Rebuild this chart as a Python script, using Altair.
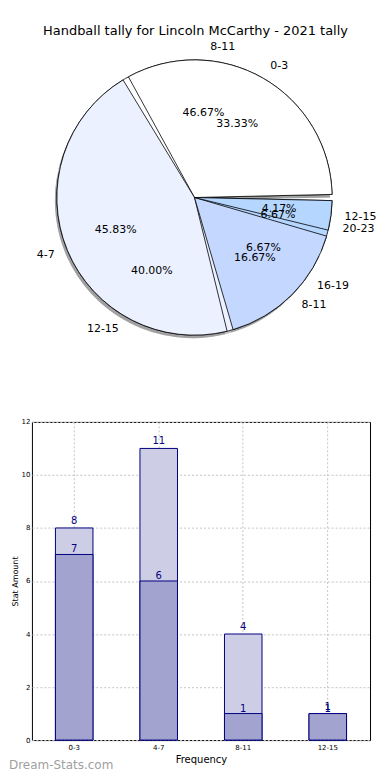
import altair as alt
import pandas as pd

title_text = "Handball tally for Lincoln McCarthy - 2021 tally"

pie1_labels = ["0-3", "4-7", "8-11", "12-15"]
pie1_values = [8, 11, 4, 1]
pie2_labels = ["8-11", "12-15", "16-19", "20-23"]
pie2_values = [7, 6, 1, 1]
pie_colors = ["#ffffff", "#ebf1ff", "#c4d7ff", "#b4d6ff"]

bar_categories = ["0-3", "4-7", "8-11", "12-15"]
bar_totals = [8, 11, 4, 1]
bar_lower = [7, 6, 1, 1]

FONT = "DejaVu Sans"
A = 23  # approx. width of the bar chart's y axis (labels + title)
W_BAR, H_BAR = 339, 319
W_TOP, H_TOP = 374 - A, 399
CX, CY, R = 186 - A, 189, 138

rows = []
for i, (lab, val) in enumerate(zip(pie1_labels, pie1_values)):
    rows.append({"pie": 1, "order": i, "label": lab, "value": val, "color": pie_colors[i]})
for i, (lab, val) in enumerate(zip(pie2_labels, pie2_values)):
    rows.append({"pie": 2, "order": i, "label": lab, "value": val, "color": pie_colors[i]})
pie_df = pd.DataFrame(rows)

base = (
    alt.Chart(pie_df)
    .transform_joinaggregate(total="sum(value)", groupby=["pie"])
    .transform_window(cum="sum(value)", groupby=["pie"], sort=[alt.SortField("order")])
    .transform_calculate(
        t0="2.5*PI - 2*PI*(datum.cum - datum.value)/datum.total",
        t1="2.5*PI - 2*PI*datum.cum/datum.total",
    )
    .transform_calculate(
        tm="(datum.t0 + datum.t1)/2",
        pct="format(100*datum.value/datum.total, '.2f') + '%'",
    )
    .transform_calculate(right="sin(datum.tm) >= 0")
)

arc_enc = dict(
    theta=alt.Theta("t0:Q", scale=None),
    theta2=alt.Theta2("t1:Q"),
)
PAD = 0.045

shadow = base.mark_arc(radius=R, padAngle=PAD, color="#888888", opacity=0.55).encode(
    x=alt.value(CX - 2), y=alt.value(CY + 3), **arc_enc
)
pie2 = base.transform_filter(alt.datum.pie == 2).mark_arc(
    radius=R, padAngle=PAD, stroke="black", strokeWidth=0.8
).encode(x=alt.value(CX), y=alt.value(CY), color=alt.Color("color:N", scale=None), **arc_enc)
pie1 = base.transform_filter(alt.datum.pie == 1).mark_arc(
    radius=R, padAngle=PAD, stroke="black", strokeWidth=0.8
).encode(x=alt.value(CX), y=alt.value(CY), color=alt.Color("color:N", scale=None), **arc_enc)

pct_text = base.mark_text(font=FONT, fontSize=11, color="black", baseline="middle").encode(
    x=alt.value(CX), y=alt.value(CY),
    theta=alt.Theta("tm:Q", scale=None), radius=alt.value(R * 0.62),
    text="pct:N",
)
lab_right = base.transform_filter("datum.right").mark_text(
    font=FONT, fontSize=11, color="black", align="left", baseline="middle"
).encode(
    x=alt.value(CX), y=alt.value(CY),
    theta=alt.Theta("tm:Q", scale=None), radius=alt.value(R * 1.1),
    text="label:N",
)
lab_left = base.transform_filter("!datum.right").mark_text(
    font=FONT, fontSize=11, color="black", align="right", baseline="middle"
).encode(
    x=alt.value(CX), y=alt.value(CY),
    theta=alt.Theta("tm:Q", scale=None), radius=alt.value(R * 1.1),
    text="label:N",
)
title_df = pd.DataFrame({"t": [title_text]})
title_mark = alt.Chart(title_df).mark_text(
    font=FONT, fontSize=13, color="black", align="center", baseline="middle"
).encode(x=alt.value(187 - A), y=alt.value(22), text="t:N")

pie_chart = alt.layer(shadow, pie2, pie1, pct_text, lab_right, lab_left, title_mark).properties(
    width=W_TOP, height=H_TOP, view=alt.ViewBackground(stroke=None)
)

bar_df = pd.DataFrame({"cat": bar_categories, "total": bar_totals, "lower": bar_lower})
grid_kw = dict(grid=True, gridDash=[2, 2], gridColor="#c4c4c4", gridWidth=1)
xenc = alt.X(
    "cat:N", sort=bar_categories,
    scale=alt.Scale(paddingInner=0.556, paddingOuter=0.278),
    axis=alt.Axis(title="Frequency", labelAngle=0, labelFontSize=7, titleFontSize=10,
                  labelFont=FONT, titleFont=FONT, titleFontWeight="normal", domain=False,
                  ticks=False, labelPadding=3, bandPosition=0.5, titlePadding=4, **grid_kw),
)
yscale = alt.Scale(domain=[0, 12], nice=False)
yaxis = alt.Axis(title="Stat Amount", values=[0, 2, 4, 6, 8, 10, 12], labelFontSize=7,
                 titleFontSize=8, labelFont=FONT, titleFont=FONT, titleFontWeight="normal",
                 domain=False, ticks=False, labelPadding=2, titlePadding=2, **grid_kw)

bars_total = alt.Chart(bar_df).mark_bar(color="#cdcde5", stroke="#000080", strokeWidth=1).encode(
    x=xenc, y=alt.Y("total:Q", scale=yscale, axis=yaxis)
)
bars_lower = alt.Chart(bar_df).mark_bar(color="#a2a3cf", stroke="#000080", strokeWidth=1).encode(
    x=alt.X("cat:N", sort=bar_categories), y=alt.Y("lower:Q")
)
txt_total = alt.Chart(bar_df).mark_text(font=FONT, fontSize=10, color="#000080", dy=-7).encode(
    x=alt.X("cat:N", sort=bar_categories), y=alt.Y("total:Q"), text="total:Q"
)
txt_lower = alt.Chart(bar_df).mark_text(font=FONT, fontSize=10, color="#000080", dy=-5).encode(
    x=alt.X("cat:N", sort=bar_categories), y=alt.Y("lower:Q"), text="lower:Q"
)
wm_df = pd.DataFrame({"t": ["Dream-Stats.com"]})
watermark = alt.Chart(wm_df).mark_text(
    font=FONT, fontSize=12, color="#a0a0a0", align="left", baseline="middle"
).encode(x=alt.value(-A), y=alt.value(H_BAR + 25), text="t:N")

bar_chart = alt.layer(bars_total, bars_lower, txt_total, txt_lower, watermark).properties(
    width=W_BAR, height=H_BAR, view=alt.ViewBackground(stroke="black", strokeWidth=1)
)

chart = alt.vconcat(pie_chart, bar_chart, spacing=10).properties(padding=0).configure_view(stroke=None)

chart.save("out.html", embed_options={"renderer": "svg", "actions": False})
